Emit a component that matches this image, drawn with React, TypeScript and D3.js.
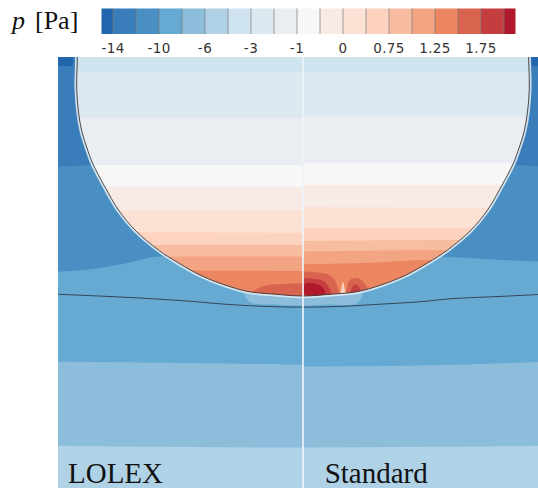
import React from 'react';
import * as d3 from 'd3';

const W = 538;
const H = 488;

// colour bar: level boundaries and segment colours
const LEVELS = [-14, -12, -10, -8, -6, -4.5, -3, -2, -1, -0.5, 0, 0.375, 0.75, 1, 1.25, 1.5, 1.75, 2];
const COLORS = ['#2166ac', '#3a7dbb', '#4a8fc3', '#66a9d2', '#8cbedc', '#b0d2e6', '#d0e4ef', '#dde9f1', '#eaeef3', '#f7f7f7', '#f8ebe6', '#fce2d5', '#fdd3bf', '#f8bda1', '#f3a482', '#ec8660', '#d8634f', '#c43d3f', '#b2182b'];
const TICK_VALUES = [-14, -10, -6, -3, -1, 0, 0.75, 1.25, 1.75];
const TICK_LABELS = ['-14', '-10', '-6', '-3', '-1', '0', '0.75', '1.25', '1.75'];

// geometry (µm): drop half profile [half-width, height], film surface [x, y]
const DROP_PROFILE: [number, number][] = [[0, 0], [28, 1.8], [54, 4.3], [78, 11], [101, 20], [124.5, 33], [144.5, 46], [168, 66], [184.5, 86], [198, 109], [210.5, 133], [216, 148], [221, 164], [224.5, 184], [226.3, 208], [225.8, 232], [225, 255], [224, 275]];
const FILM_PROFILE: [number, number][] = [[-245, 1.7], [-200, -0.2], [-150, -2.8], [-110, -5.5], [-78, -8.2], [-40, -10.3], [0, -11.2], [40, -10.3], [80, -8], [114, -6], [150, -2.6], [200, -0.3], [245, 2]];

// exterior isobars (x, y) — region below each gets the next colour
const EXT_TOP_LEVEL = -14;
const EXT_ISOBARS: { level: number; pts: [number, number][] }[] = [
  { level: -12, pts: [[-245, 129], [-205, 131], [205, 131], [245, 129]] },
  { level: -10, pts: [[-245, 24.3], [-218, 26], [-180, 32], [-143, 39.5], [0, 41], [144, 39], [190, 36.5], [245, 34]] },
  { level: -8, pts: [[-245, -65.7], [-120, -67], [-1, -69], [1, -70.5], [120, -69.5], [245, -65.7]] },
  { level: -6, pts: [[-245, -150], [0, -151.5], [245, -150]] },
];
const EXT_CORNERS: [number, number][][] = [
  [[-246, 240], [-230, 240], [-230, 232], [-231, 230], [-246, 230]],
  [[228, 240], [246, 240], [246, 229], [229, 230]],
];
const UNDER_DROP_PATCH: [number, number][] = [[-58, 4], [-53, -6], [-25, -8.5], [0, -9.5], [25, -8.5], [54, -7], [59, 4]];

// interior isobars per half, as [distance from axis, height]
const INT_TOP_LEVEL = -4.5;
const LOLEX_ISOBARS: { level: number; pts: [number, number][] }[] = [
  { level: -3, pts: [[0, 224.3], [240, 224.3]] },
  { level: -2, pts: [[0, 178], [240, 178]] },
  { level: -1, pts: [[0, 131], [240, 131]] },
  { level: -0.5, pts: [[0, 109], [240, 109]] },
  { level: 0, pts: [[0, 86], [240, 86]] },
  { level: 0.375, pts: [[0, 63.3], [240, 64]] },
  { level: 0.75, pts: [[0, 51], [240, 51]] },
  { level: 1, pts: [[0, 39.5], [240, 39.5]] },
  { level: 1.25, pts: [[0, 25], [240, 26]] },
  { level: 1.5, pts: [[0, 12.7], [35, 11], [48, 6], [60, -2], [240, -5]] },
];
const STANDARD_ISOBARS: { level: number; pts: [number, number][] }[] = [
  { level: -3, pts: [[0, 224.3], [240, 224.3]] },
  { level: -2, pts: [[0, 179.3], [240, 179.3]] },
  { level: -1, pts: [[0, 132.7], [240, 132.7]] },
  { level: -0.5, pts: [[0, 111], [240, 111]] },
  { level: 0, pts: [[0, 89.3], [240, 88]] },
  { level: 0.375, pts: [[0, 68], [240, 68]] },
  { level: 0.75, pts: [[0, 55], [150, 56], [240, 56]] },
  { level: 1, pts: [[0, 44.5], [150, 46], [240, 46]] },
  { level: 1.25, pts: [[0, 32], [60, 33], [127, 36], [240, 36]] },
];
const STANDARD_POCKETS: { level: number; pts: [number, number][] }[] = [
  { level: 1.5, pts: [[0, 23], [14, 23.5], [25, 21.5], [31, 17], [34, 11], [36, 4], [36, -3], [0, -3]] },
  { level: 1.5, pts: [[44, -3], [44, 8], [46, 15], [51, 18], [57, 17], [62, 12], [66, 4], [66, -3]] },
  { level: 1.75, pts: [[0, 17], [12, 17], [21, 14.5], [26, 9], [28, 3], [28, -3], [0, -3]] },
  { level: 1.75, pts: [[48, -3], [48, 6], [51, 11], [55, 10], [58, 4], [58, -3]] },
  { level: 2, pts: [[2, 12], [14, 12], [20, 8], [22, 2], [2, 2]] },
  { level: 0.375, pts: [[37, -3], [38.5, 8], [40, 14], [41.5, 8], [43, -3]] },
];

const xS = d3.scaleLinear().domain([-245, 245]).range([58, 548]);
const yS = d3.scaleLinear().domain([-192, 239]).range([488, 57]);
const barX = d3.scaleLinear().domain([0, LEVELS.length - 1]).range([113, 504]);

const colorBelow = (level: number) => COLORS[LEVELS.indexOf(level) + 1];

const lineGen = d3.line<[number, number]>().x(d => xS(d[0])).y(d => yS(d[1]));
const smoothLine = d3.line<[number, number]>().x(d => xS(d[0])).y(d => yS(d[1])).curve(d3.curveMonotoneX);
const closedSmooth = d3.line<[number, number]>().x(d => xS(d[0])).y(d => yS(d[1])).curve(d3.curveCatmullRomClosed.alpha(0.5));

function belowArea(pts: [number, number][]) {
  const s = [...pts].sort((a, b) => a[0] - b[0]);
  const bottom = yS(-200);
  return `${smoothLine(s)}L${xS(s[s.length - 1][0])},${bottom}L${xS(s[0][0])},${bottom}Z`;
}
const mirror = (pts: [number, number][], side: number) => pts.map(([u, y]) => [side * u, y] as [number, number]);

const dropOutline: [number, number][] = [
  ...DROP_PROFILE,
  ...DROP_PROFILE.slice(1).reverse().map(([u, h]) => [-u, h] as [number, number]),
];
const dropPath = closedSmooth(dropOutline) as string;

export default function App() {
  const px0 = xS(-245), px1 = xS(245), py0 = yS(239), py1 = yS(-192);
  const cx = xS(0);
  const halves = [
    { side: -1, id: 'halfL', iso: LOLEX_ISOBARS, pockets: [] as typeof STANDARD_POCKETS, x: px0, w: cx - px0 },
    { side: 1, id: 'halfR', iso: STANDARD_ISOBARS, pockets: STANDARD_POCKETS, x: cx, w: px1 - cx },
  ];
  return (
    <svg width={W} height={H} style={{ position: 'absolute', left: 0, top: 0, background: '#fff' }}>
      <defs>
        <clipPath id="plot"><rect x={px0} y={py0} width={px1 - px0} height={py1 - py0} /></clipPath>
        <clipPath id="drop"><path d={dropPath} /></clipPath>
        {halves.map(h => (
          <clipPath key={h.id} id={h.id}><rect x={h.x} y={py0} width={h.w} height={py1 - py0} /></clipPath>
        ))}
      </defs>

      <g clipPath="url(#plot)">
        {/* exterior field */}
        <rect x={px0} y={py0} width={px1 - px0} height={py1 - py0} fill={colorBelow(EXT_TOP_LEVEL)} />
        {EXT_CORNERS.map((c, i) => (
          <path key={'c' + i} d={lineGen(c) + 'Z'} fill={COLORS[0]} />
        ))}
        {EXT_ISOBARS.map((b, i) => (
          <path key={'e' + i} d={belowArea(b.pts)} fill={colorBelow(b.level)} />
        ))}
        <path d={closedSmooth(UNDER_DROP_PATCH) as string} fill={colorBelow(-8)} />
        {/* halo around drop */}
        <path d={dropPath} fill="none" stroke="#e4eef6" strokeWidth={4.5} strokeOpacity={0.85} />
        {/* interior field */}
        <g clipPath="url(#drop)">
          {halves.map(h => (
            <g key={h.id} clipPath={`url(#${h.id})`}>
              <rect x={h.x} y={py0} width={h.w} height={py1 - py0} fill={colorBelow(INT_TOP_LEVEL)} />
              {h.iso.map((b, i) => (
                <path key={i} d={belowArea(mirror(b.pts, h.side))} fill={colorBelow(b.level)} />
              ))}
              {h.pockets.map((p, i) => (
                <path key={'p' + i} d={closedSmooth(mirror(p.pts, h.side)) as string} fill={colorBelow(p.level)} />
              ))}
            </g>
          ))}
        </g>
        <path d={dropPath} fill="none" stroke="#3a3a3a" strokeWidth={0.9} />
        <path d={d3.line<[number, number]>().x(d => xS(d[0])).y(d => yS(d[1])).curve(d3.curveCatmullRom)(FILM_PROFILE) as string} fill="none" stroke="#2e3a44" strokeWidth={0.9} />
        <line x1={cx} x2={cx} y1={py0} y2={py1} stroke="#eef4f9" strokeWidth={1.7} />
        <text x={68} y={483} fontFamily="'Liberation Serif', serif" fontSize={29} fill="#111">LOLEX</text>
        <text x={324.7} y={483} fontFamily="'Liberation Serif', serif" fontSize={29} fill="#111">Standard</text>
      </g>

      {/* colour bar */}
      <g>
        {COLORS.map((c, j) => {
          const a = barX(Math.max(j - 1, -0.5));
          const b = barX(Math.min(j, LEVELS.length - 0.5));
          return <rect key={j} x={a} y={8.5} width={b - a} height={25.5} fill={c} />;
        })}
        {LEVELS.map((l, i) => (
          <line key={i} x1={barX(i)} x2={barX(i)} y1={8.5} y2={34} stroke="#7a7a7a" strokeWidth={0.7} />
        ))}
        {TICK_VALUES.map((v, i) => (
          <text key={i} x={barX(LEVELS.indexOf(v))} y={53} textAnchor="middle" fontFamily="'DejaVu Sans', sans-serif" fontSize={13.5} fill="#333" letterSpacing={0.4}>{TICK_LABELS[i]}</text>
        ))}
        <text x={12} y={28.5} fontFamily="'Liberation Serif', serif" fontStyle="italic" fontSize={26} fill="#111">p</text>
        <text x={35} y={28.5} fontFamily="'Liberation Serif', serif" fontSize={26} fill="#111">[Pa]</text>
      </g>
    </svg>
  );
}
